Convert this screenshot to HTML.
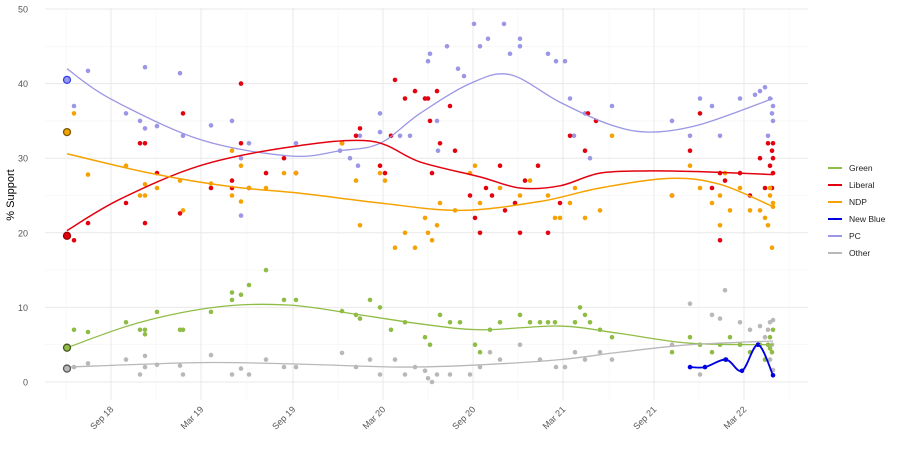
<!DOCTYPE html>
<html><head><meta charset="utf-8"><style>
body{margin:0;background:#fff;}
svg{display:block;font-family:"Liberation Sans",sans-serif;}
</style></head><body>
<svg id="s" width="900" height="450" viewBox="0 0 900 450"></svg>
<script>
const s=document.getElementById('s');let h='';
const Y=v=>382-7.46*v;
// grid
for(let i=0;i<=50;i+=5){h+=`<line x1="45" x2="808" y1="${Y(i)}" y2="${Y(i)}" stroke="${i%10?'#f4f4f4':'#e8e8e8'}" stroke-width="${i%10?0.6:1}"/>`;}
const maj=[111,201,293,383,473,563,654,744];
for(let i=0;i<maj.length;i++){h+=`<line x1="${maj[i]}" x2="${maj[i]}" y1="8" y2="400" stroke="#e8e8e8"/>`;}
[66,156,247,338,428,518,609,699,789].forEach(x=>h+=`<line x1="${x}" x2="${x}" y1="8" y2="400" stroke="#f4f4f4" stroke-width="0.6"/>`);
for(let i=0;i<=50;i+=10)h+=`<text x="28" y="${Y(i)+3.5}" font-size="9" fill="#555" text-anchor="end">${i}</text>`;
const labs=["Sep 18","Mar 19","Sep 19","Mar 20","Sep 20","Mar 21","Sep 21","Mar 22"];
labs.forEach((l,i)=>h+=`<text transform="translate(${maj[i]+3},${410}) rotate(-45)" font-size="9" fill="#555" text-anchor="end">${l}</text>`);
h+=`<text transform="translate(14,195) rotate(-90)" font-size="11" fill="#000" text-anchor="middle">% Support</text>`;
const C={g:'#8fbc45',l:'#e3000f',n:'#f5a200',b:'#0000e0',p:'#9b96e6',o:'#b8b8b8'};
const pts={
p:[[74,37],[88,41.7],[126,36],[140,35],[145,42.2],[145,34],[157,34.3],[180,41.4],[183,33],[211,34.4],[232,35],[241,30],[249,32],[241,22.3],[296,32],[340,31],[350,30],[358,29],[360,33],[380,36],[380,33.5],[400,33],[410,33],[425,38],[428,43],[430,44],[437,35],[438,31],[447,45],[458,42],[464,41],[474,48],[480,45],[488,46],[504,48],[510,44],[520,46],[520,45],[548,44],[556,43],[565,43],[570,38],[574,33],[585,36],[590,30],[612,37],[672,35],[690,33],[700,38],[712,37],[720,33],[740,38],[755,38.5],[760,39],[765,39.5],[770,38],[772,36],[773,35],[773,37],[768,33]],
l:[[74,19],[88,21.3],[126,24],[140,32],[145,32],[145,21.3],[157,28],[180,22.6],[183,36],[211,26],[232,26],[232,27],[241,40],[241,32],[249,26],[266,28],[284,30],[296,28],[342,32],[356,33],[360,34],[380,29],[385,28],[391,33],[395,40.5],[405,38],[415,39],[425,38],[428,38],[430,35],[432,28],[437,39],[440,32],[450,37],[455,31],[470,25],[475,22],[480,20],[486,26],[492,25],[500,29],[505,23],[515,24],[520,20],[525,27],[538,29],[548,20],[560,24],[570,33],[585,31],[588,36],[596,35],[672,25],[690,31],[700,36],[712,26],[720,28],[720,19],[725,27],[740,28],[750,25],[760,30],[765,26],[768,32],[772,31],[773,30],[773,28],[770,29],[773,32],[772,26]],
n:[[74,36],[88,27.8],[126,29],[140,25],[145,25],[145,26.5],[157,26],[180,27],[183,23],[211,26.6],[232,25],[232,31],[241,29],[241,24.2],[249,26],[266,26],[284,28],[296,28],[342,32],[356,27],[360,21],[380,28],[385,27],[395,18],[405,20],[415,18],[425,22],[428,20],[432,19],[437,21],[440,24],[455,23],[470,28],[475,29],[480,24],[500,26],[520,25],[530,27],[548,25],[555,22],[560,22],[570,24],[575,26],[585,22],[600,23],[612,33],[672,25],[690,29],[700,26],[712,24],[720,25],[720,21],[725,28],[730,23],[740,26],[750,23],[760,23],[765,22],[768,21],[770,25],[773,24],[772,18],[773,23.5],[770,26]],
g:[[74,7],[88,6.7],[126,8],[140,7],[145,6.4],[145,7],[157,9.4],[180,7],[183,7],[211,9.4],[232,11],[232,12],[241,11.7],[249,13],[266,15],[284,11],[296,11],[342,9.5],[356,9],[360,8.5],[370,11],[380,10],[391,7],[405,8],[425,6],[430,5],[440,9],[450,8],[460,8],[475,5],[480,4],[490,7],[500,8],[520,9],[530,8],[540,8],[548,8],[555,8],[575,8],[580,10],[585,9],[590,8],[600,7],[612,6],[672,4],[690,6],[700,5],[712,4],[720,5],[725,3],[730,6],[740,5],[750,4],[760,5],[765,3],[768,5],[770,6],[773,7],[772,4],[770,4.5]],
o:[[74,2],[88,2.5],[126,3],[140,1],[145,3.5],[145,2],[157,2.3],[180,2.2],[183,1],[211,3.6],[232,1],[241,1.8],[249,1],[266,3],[284,2],[296,2],[342,3.9],[356,2],[370,3],[380,1],[395,3],[405,1],[415,2],[425,1.5],[428,0.5],[432,0],[437,1],[450,1],[470,1],[480,2],[490,4],[500,3],[520,5],[540,3],[556,2],[565,2],[575,4],[585,3],[600,4],[612,3],[672,5],[690,10.5],[700,1],[712,9],[720,8.5],[725,12.3],[740,8],[750,7],[760,7.5],[765,6],[768,7],[770,8],[773,8.3],[772,5],[770,3],[773,1.6]],
b:[[690,2],[705,2],[726,3],[742,1.5],[758,5],[773,0.9]]};
for(const k in pts)pts[k].forEach(([x,v])=>h+=`<circle cx="${x}" cy="${Y(v).toFixed(1)}" r="2.3" fill="${C[k]}"/>`);
function curve(p,c,w){let d=`M${p[0][0]},${Y(p[0][1])}`;for(let i=0;i<p.length-1;i++){const p0=p[Math.max(0,i-1)],p1=p[i],p2=p[i+1],p3=p[Math.min(p.length-1,i+2)];const c1x=p1[0]+(p2[0]-p0[0])/6,c1y=Y(p1[1])+(Y(p2[1])-Y(p0[1]))/6,c2x=p2[0]-(p3[0]-p1[0])/6,c2y=Y(p2[1])-(Y(p3[1])-Y(p1[1]))/6;d+=` C${c1x},${c1y} ${c2x},${c2y} ${p2[0]},${Y(p2[1])}`;}h+=`<path d="${d}" fill="none" stroke="${c}" stroke-width="${w}"/>`;}
curve([[67,42],[110,38],[200,32.5],[290,30.3],[340,31],[380,32],[420,36],[470,40],[510,41.2],[560,37.5],[610,34.5],[650,33.5],[700,34.5],[773,38]],C.p,1.3);
curve([[67,20.3],[120,24.5],[200,29],[290,31.5],[370,32.3],[420,29.5],[480,27.5],[520,26],[560,26.3],[600,28],[650,28.3],[700,28.2],[773,27.8]],C.l,1.5);
curve([[67,30.6],[150,28],[230,26.2],[300,25.3],[380,24],[460,23],[540,24.2],[600,26],[670,27.3],[720,26.5],[773,23.5]],C.n,1.5);
curve([[67,4.6],[140,8],[220,10.1],[290,10.3],[360,9],[420,7.8],[480,7],[560,7.5],[620,6.5],[690,5.2],[773,5]],C.g,1.3);
curve([[67,2],[200,2.6],[300,2.4],[400,2],[480,2.3],[560,3],[620,4],[690,5],[773,5.5]],C.o,1.3);
curve(pts.b,C.b,1.8);
[[C.p,40.5,'#3344ee'],[C.n,33.5,'#7a5a00'],[C.l,19.6,'#990000'],[C.g,4.6,'#445522'],[C.o,1.8,'#555']].forEach(([c,v,sc])=>h+=`<circle cx="67" cy="${Y(v)}" r="3.5" fill="${c}" stroke="${sc}" stroke-width="1.3"/>`);
const L=[['Green',C.g],['Liberal',C.l],['NDP',C.n],['New Blue',C.b],['PC',C.p],['Other',C.o]];
L.forEach(([t,c],i)=>{const y=168+i*17;h+=`<line x1="828" x2="842" y1="${y}" y2="${y}" stroke="${c}" stroke-width="2"/><text x="849" y="${y+3}" font-size="8.5" fill="#222">${t}</text>`;});
s.innerHTML=h;
</script>
</body></html>
